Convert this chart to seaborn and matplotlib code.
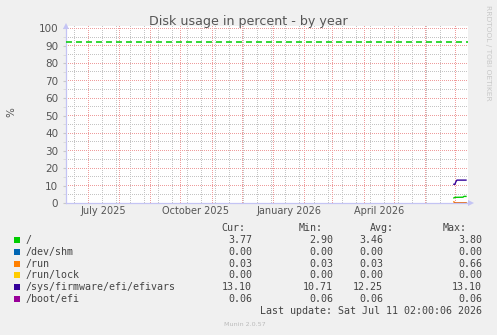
import numpy as np
import pandas as pd
import matplotlib
matplotlib.use("Agg")
import matplotlib.pyplot as plt
import matplotlib.dates as mdates
import seaborn as sns

# ---------------- data ----------------
series_names = ['/', '/dev/shm', '/run', '/run/lock',
                '/sys/firmware/efi/efivars', '/boot/efi']
series_colors = ['#00CC00', '#0066B3', '#FF8000', '#FFCC00', '#330099', '#990099']

sample_dates = pd.date_range('2026-06-29', '2026-07-11', freq='D')
root_vals    = [2.90, 3.25, 3.25, 3.26, 3.27, 3.28, 3.29, 3.30, 3.31, 3.32, 3.78, 3.80, 3.77]
shm_vals     = [0.00, 0.00, 0.00, 0.00, 0.00, 0.00, 0.00, 0.00, 0.00, 0.00, 0.00, 0.00, 0.00]
run_vals     = [0.66, 0.03, 0.03, 0.03, 0.03, 0.03, 0.03, 0.03, 0.03, 0.03, 0.03, 0.03, 0.03]
lock_vals    = [0.00, 0.00, 0.00, 0.00, 0.00, 0.00, 0.00, 0.00, 0.00, 0.00, 0.00, 0.00, 0.00]
efivars_vals = [10.71, 10.71, 12.20, 13.10, 13.10, 13.10, 13.10, 13.10, 13.10, 13.10, 13.10, 13.10, 13.10]
bootefi_vals = [0.06, 0.06, 0.06, 0.06, 0.06, 0.06, 0.06, 0.06, 0.06, 0.06, 0.06, 0.06, 0.06]

warning_level = 92

cur_vals = ['3.77', '0.00', '0.03', '0.00', '13.10', '0.06']
min_vals = ['2.90', '0.00', '0.03', '0.00', '10.71', '0.06']
avg_vals = ['3.46', '0.00', '0.03', '0.00', '12.25', '0.06']
max_vals = ['3.80', '0.00', '0.66', '0.00', '13.10', '0.06']

x_label_texts = ['July 2025', 'October 2025', 'January 2026', 'April 2026']
x_label_dates = ['2025-07-16', '2025-10-16', '2026-01-16', '2026-04-16']

title = 'Disk usage in percent - by year'
last_update = 'Last update: Sat Jul 11 02:00:06 2026'

# ---------------- figure ----------------
W, H = 497, 335
plt.rcParams['lines.scale_dashes'] = False
fig = plt.figure(figsize=(W / 100, H / 100), dpi=100, facecolor='#F0F0F0')

def fx(px):
    return px / W

def fy(py):
    return 1 - py / H

ax_left, ax_right, ax_top, ax_bottom = 66, 468, 26, 203
ax = fig.add_axes([fx(ax_left), fy(ax_bottom), (ax_right - ax_left) / W, (ax_bottom - ax_top) / H])
ax.set_facecolor('white')

px_per_unit = 1.747
y_top = (ax_bottom - ax_top) / px_per_unit
x0 = pd.Timestamp('2025-06-09')
x1 = pd.Timestamp('2026-07-13')

# series (seaborn)
frames = []
for name, vals in zip(series_names,
                      [root_vals, shm_vals, run_vals, lock_vals, efivars_vals, bootefi_vals]):
    frames.append(pd.DataFrame({'date': sample_dates, 'value': vals, 'series': name}))
df = pd.concat(frames, ignore_index=True)
sns.lineplot(data=df, x='date', y='value', hue='series', hue_order=series_names,
             palette=dict(zip(series_names, series_colors)), linewidth=1.0,
             legend=False, ax=ax, zorder=4)
ax.set_xlabel('')
ax.set_ylabel('')

ax.set_xlim(x0, x1)
ax.set_ylim(0, y_top)
xn0, xn1 = mdates.date2num(x0), mdates.date2num(x1)

# grid drawn explicitly, placed on pixel centres, no re-snapping
def snap_x(xs):
    xs = np.asarray(xs, dtype=float)
    d = ax.transData.transform(np.column_stack([xs, np.zeros_like(xs)]))[:, 0]
    d = np.floor(d) + 0.5
    return ax.transData.inverted().transform(np.column_stack([d, np.zeros_like(d)]))[:, 0]

def snap_y(ys):
    ys = np.asarray(ys, dtype=float)
    d = ax.transData.transform(np.column_stack([np.full_like(ys, xn0), ys]))[:, 1]
    d = np.floor(d) + 0.5
    return ax.transData.inverted().transform(np.column_stack([np.zeros_like(d), d]))[:, 1]

month_starts = [mdates.date2num(pd.Timestamp(2025 + (6 + k) // 12, (6 + k) % 12 + 1, 1))
                for k in range(13)]
minor_x = [xn0 + 8.2 + 14 * k for k in range(29)]
minor_x = [v for v in minor_x if v < xn1]
minor_y = np.arange(5, 100, 10)
major_y = np.arange(10, 101, 10)

grid_gray = '#C4C4C4'
grid_red = '#EE9C9C'
dot = (0, (0.72, 0.72))
gkw = dict(linestyle=dot, linewidth=0.72, snap=False, solid_capstyle='butt',
           dash_capstyle='butt')
for xv in snap_x(minor_x):
    ax.plot([xv, xv], [0, y_top], color=grid_gray, zorder=1.0, **gkw)
for yv in snap_y(minor_y):
    ax.plot([xn0, xn1], [yv, yv], color=grid_gray, zorder=1.0, **gkw)
for xv in snap_x(month_starts):
    ax.plot([xv, xv], [0, y_top], color=grid_red, zorder=1.1, **gkw)
for yv in snap_y(major_y):
    ax.plot([xn0, xn1], [yv, yv], color=grid_red, zorder=1.1, **gkw)

ax.set_xlim(x0, x1)
ax.set_ylim(0, y_top)
ax.set_xticks([])
ax.set_yticks(np.arange(0, 101, 10))
ax.set_yticks(minor_y, minor=True)

ax.tick_params(axis='y', which='major', length=2, color='#C8C8C8', pad=3.5,
               labelsize=7.5, labelcolor='#555555')
ax.tick_params(axis='y', which='minor', length=2, color='#D8D8D8')

for s in ['top', 'right']:
    ax.spines[s].set_visible(False)
for s in ['left', 'bottom']:
    ax.spines[s].set_color('#C4C4F4')
    ax.spines[s].set_linewidth(0.9)

# warning line
ax.axhline(warning_level, color='#00CC00', linewidth=1.1, linestyle=(0, (4.3, 2.9)), zorder=3)

# x labels at mid-month
lab_y = -(214.5 - ax_bottom) / (ax_bottom - ax_top)
for t, d in zip(x_label_texts, x_label_dates):
    ax.text(pd.Timestamp(d), lab_y, t, transform=ax.get_xaxis_transform(),
            ha='center', va='baseline', fontsize=7.0, color='#555555')

# arrows on axes
ax.plot([0], [1.0], marker='^', markersize=5, color='#C4C4F4', transform=ax.transAxes,
        clip_on=False, markeredgewidth=0)
ax.plot([1.008], [0], marker='>', markersize=5, color='#C4C4F4', transform=ax.transAxes,
        clip_on=False, markeredgewidth=0)

# title & side texts
fig.text(fx(248), fy(25), title, ha='center', va='baseline', fontsize=9.1, color='#555555')
fig.text(fx(11), fy(112), '%', ha='center', va='center', rotation=90, fontsize=7.5, color='#555555')
fig.text(fx(488), fy(5), 'RRDTOOL / TOBI OETIKER', ha='center', va='top', rotation=270,
         fontsize=5.4, color='#C8C8C8')

# legend table
mono = 'DejaVu Sans Mono'
fs = 7.2
txt_col = '#444444'
row0 = 228.0
dy = 11.85
fig.text(fx(245), fy(row0), 'Cur:', ha='right', va='center', family=mono, fontsize=fs, color=txt_col)
fig.text(fx(323), fy(row0), 'Min:', ha='right', va='center', family=mono, fontsize=fs, color=txt_col)
fig.text(fx(394), fy(row0), 'Avg:', ha='right', va='center', family=mono, fontsize=fs, color=txt_col)
fig.text(fx(467), fy(row0), 'Max:', ha='right', va='center', family=mono, fontsize=fs, color=txt_col)
for i, (name, col) in enumerate(zip(series_names, series_colors)):
    yy = row0 + dy * (i + 1)
    fig.patches.append(matplotlib.patches.Rectangle((fx(14), fy(yy + 3)), 6 / W, 6 / H,
                                                    transform=fig.transFigure, facecolor=col,
                                                    edgecolor='none'))
    fig.text(fx(26), fy(yy), name, ha='left', va='center', family=mono, fontsize=fs, color=txt_col)
    fig.text(fx(252), fy(yy), cur_vals[i], ha='right', va='center', family=mono, fontsize=fs, color=txt_col)
    fig.text(fx(333), fy(yy), min_vals[i], ha='right', va='center', family=mono, fontsize=fs, color=txt_col)
    fig.text(fx(383), fy(yy), avg_vals[i], ha='right', va='center', family=mono, fontsize=fs, color=txt_col)
    fig.text(fx(482), fy(yy), max_vals[i], ha='right', va='center', family=mono, fontsize=fs, color=txt_col)
fig.text(fx(482), fy(row0 + dy * 7), last_update, ha='right', va='center', family=mono,
         fontsize=fs, color=txt_col)
fig.text(fx(245), fy(324), 'Munin 2.0.57', ha='center', va='center', fontsize=4.6, color='#BBBBBB')

fig.savefig('out.png', dpi=100, facecolor=fig.get_facecolor())
